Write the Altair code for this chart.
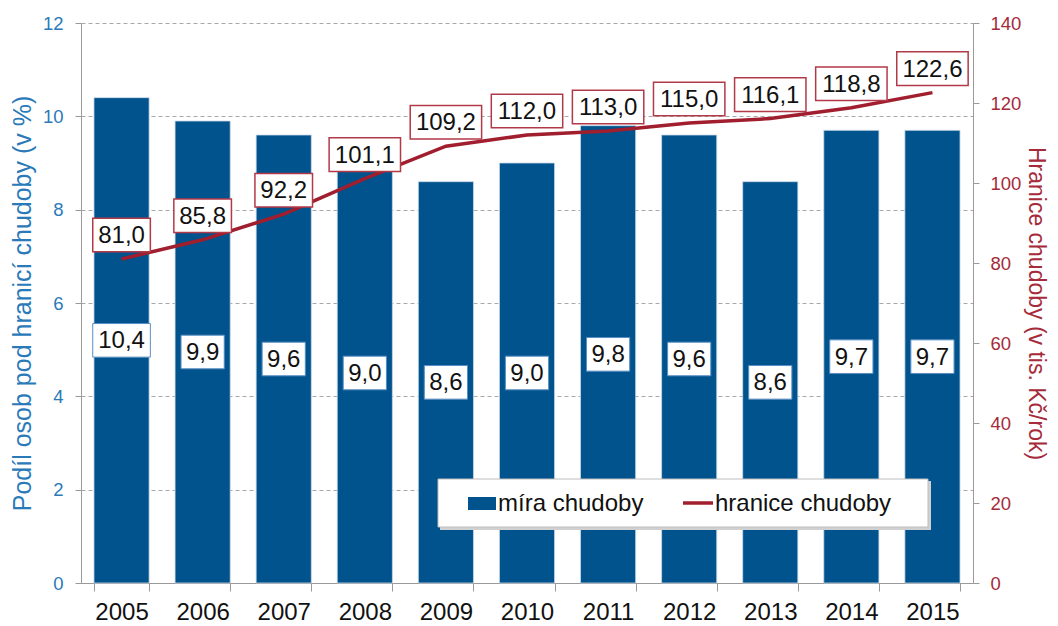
import altair as alt
import pandas as pd

# ---- data ----
years = ["2005", "2006", "2007", "2008", "2009", "2010", "2011", "2012", "2013", "2014", "2015"]
mira = [10.4, 9.9, 9.6, 9.0, 8.6, 9.0, 9.8, 9.6, 8.6, 9.7, 9.7]
hranice = [81.0, 85.8, 92.2, 101.1, 109.2, 112.0, 113.0, 115.0, 116.1, 118.8, 122.6]
left_ticks = [0, 2, 4, 6, 8, 10, 12]
right_ticks = [0, 20, 40, 60, 80, 100, 120, 140]
legend_labels = ["míra chudoby", "hranice chudoby"]

df = pd.DataFrame({"rok": years, "mira": mira, "hranice": hranice})

# ---- styles ----
W, H = 892, 560
FONT = "Liberation Sans"
BAR = "#00538C"
AX_BLUE = "#2A7AB9"
LINE = "#A01E2E"
AX_RED = "#A52A3A"
BOX_RED = "#B23A48"
BOX_BLUE = "#5A8EC4"
GRID = "#A8A8A8"
AXIS_GRAY = "#9A9A9A"
TXT = "#111111"


def box(hw, hh):
    return f"M{-hw},{-hh}H{hw}V{hh}H{-hw}Z"


box_paths = [box(0.72, 0.56), box(0.96, 0.56), box(1.19, 0.56)]
shape_enc = alt.Shape("len:N", scale=alt.Scale(domain=["3", "4", "5"], range=box_paths), legend=None)


def x_enc():
    return alt.X(
        "rok:N", sort=years,
        scale=alt.Scale(paddingInner=0.32, paddingOuter=0.16),
        axis=alt.Axis(title=None, labelFontSize=24, labelFont=FONT, labelColor=TXT, labelAngle=0,
                      labelPadding=9, tickBand="extent", tickSize=8, tickColor=AXIS_GRAY,
                      domainColor=AXIS_GRAY, grid=False),
    )


yl_scale = alt.Scale(domain=[0, 12])
yr_scale = alt.Scale(domain=[0, 140])

base = alt.Chart(df)

bars = base.mark_bar(color=BAR, stroke="#C9D8E8", strokeWidth=0.8).encode(
    x=x_enc(),
    y=alt.Y("mira:Q", scale=yl_scale,
            axis=alt.Axis(orient="left", values=left_ticks, title="Podíl osob pod hranicí chudoby (v %)",
                          titleColor=AX_BLUE, titleFont=FONT, titleFontSize=25, titleFontWeight="normal",
                          titlePadding=7, labelColor=AX_BLUE, labelFont=FONT, labelFontSize=18.5,
                          labelPadding=12, tickSize=6, tickColor=AXIS_GRAY, domainColor=AXIS_GRAY,
                          grid=True, gridDash=[4, 3], gridColor=GRID, gridWidth=1)),
)

bar_lab = base.transform_calculate(
    lab="replace(format(datum.mira, '.1f'), '.', ',')",
    ly="datum.mira / 2",
).transform_calculate(len="toString(length(datum.lab))")

bar_box = bar_lab.mark_point(filled=True, fill="white", stroke=BOX_BLUE, strokeWidth=1,
                             opacity=1, size=3600).encode(
    x=x_enc(), y=alt.Y("ly:Q", scale=yl_scale, axis=None), shape=shape_enc)
bar_txt = bar_lab.mark_text(font=FONT, fontSize=24, color=TXT, baseline="middle", dy=1).encode(
    x=x_enc(), y=alt.Y("ly:Q", scale=yl_scale, axis=None), text="lab:N")

line = base.mark_line(color=LINE, strokeWidth=3.5).encode(
    x=x_enc(),
    y=alt.Y("hranice:Q", scale=yr_scale,
            axis=alt.Axis(orient="right", values=right_ticks, title="Hranice chudoby (v tis. Kč/rok)",
                          titleColor=AX_RED, titleFont=FONT, titleFontSize=23, titleFontWeight="normal",
                          titlePadding=3, labelColor=AX_RED, labelFont=FONT, labelFontSize=18.5,
                          labelPadding=11, tickSize=6, tickColor=AXIS_GRAY, domainColor=AXIS_GRAY,
                          grid=False)),
)

line_lab = base.transform_calculate(
    lab="replace(format(datum.hranice, '.1f'), '.', ',')",
    ly="datum.hranice + 6",
).transform_calculate(len="toString(length(datum.lab))")

line_box = line_lab.mark_point(filled=True, fill="white", stroke=BOX_RED, strokeWidth=1.5,
                               opacity=1, size=3600).encode(
    x=x_enc(), y=alt.Y("ly:Q", scale=yr_scale, axis=None), shape=shape_enc)
line_txt = line_lab.mark_text(font=FONT, fontSize=24, color=TXT, baseline="middle", dy=1).encode(
    x=x_enc(), y=alt.Y("ly:Q", scale=yr_scale, axis=None), text="lab:N")

# ---- legend (manual) ----
ld = alt.Chart(pd.DataFrame({"k": [0]}))
leg_shadow = ld.mark_rect(fill="#D0D0D0").encode(
    x=alt.value(359), x2=alt.value(850), y=alt.value(458), y2=alt.value(507))
leg_box = ld.mark_rect(fill="white", stroke="#BDBDBD", strokeWidth=1).encode(
    x=alt.value(357), x2=alt.value(847), y=alt.value(456), y2=alt.value(504))
leg_sym1 = ld.mark_rect(fill=BAR).encode(
    x=alt.value(387), x2=alt.value(415), y=alt.value(474), y2=alt.value(487))
leg_txt1 = ld.mark_text(font=FONT, fontSize=24, color=TXT, align="left", baseline="middle").encode(
    x=alt.value(417), y=alt.value(481), text=alt.value(legend_labels[0]))
leg_sym2 = ld.mark_rule(color=LINE, strokeWidth=3.5).encode(
    x=alt.value(602), x2=alt.value(632), y=alt.value(480))
leg_txt2 = ld.mark_text(font=FONT, fontSize=24, color=TXT, align="left", baseline="middle").encode(
    x=alt.value(634), y=alt.value(481), text=alt.value(legend_labels[1]))

chart = alt.layer(
    bars, bar_box, bar_txt, line, line_box, line_txt,
    leg_shadow, leg_box, leg_sym1, leg_txt1, leg_sym2, leg_txt2,
).resolve_scale(y="independent").properties(
    width=W, height=H,
    autosize=alt.AutoSizeParams(type="none"),
    padding={"left": 73, "top": 15, "right": 77, "bottom": 43},
    background="white",
).configure_view(stroke="transparent")

chart.save("out.html", embed_options={"renderer": "svg", "actions": False})
